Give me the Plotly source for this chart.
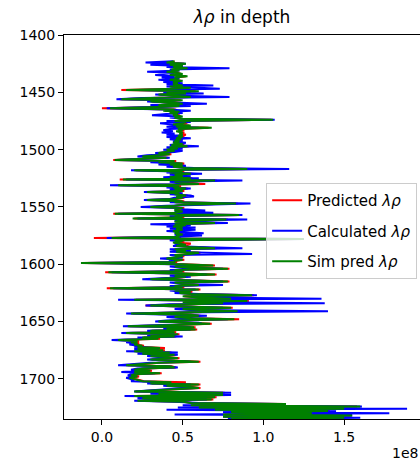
import plotly.graph_objects as go

# Depth samples (m), 1 m spacing from 1423 to 1735
DEPTH = list(range(1423, 1736))

# lambda-rho values in units of 1e8
GREEN = [
    0.45, 0.40, 0.52, 0.42, 0.50, 0.44, 0.53, 0.43, 0.48, 0.40,
    0.46, 0.50, 0.42, 0.53, 0.45, 0.48, 0.42, 0.50, 0.44, 0.47,
    0.44, 0.50, 0.42, 0.55, 0.45, 0.15, 0.60, 0.40, 0.52, 0.35,
    0.45, 0.55, 0.30, 0.12, 0.50, 0.30, 0.45, 0.50, 0.35, 0.48,
    0.30, 0.05, 0.45, 0.38, 0.48, 0.42, 0.47, 0.44, 0.50, 0.45,
    0.48, 1.06, 0.45, 0.52, 0.50, 0.44, 0.55, 0.46, 0.68, 0.47,
    0.50, 0.46, 0.50, 0.48, 0.50, 0.47, 0.50, 0.46, 0.49, 0.45,
    0.48, 0.44, 0.50, 0.43, 0.53, 0.42, 0.47, 0.40, 0.45, 0.40,
    0.35, 0.42, 0.30, 0.25, 0.40, 0.20, 0.08, 0.45, 0.35, 0.50,
    0.42, 0.50, 0.44, 0.52, 0.90, 0.20, 0.50, 0.42, 0.55, 0.45,
    0.50, 0.42, 0.55, 0.13, 0.70, 0.45, 0.50, 0.60, 0.10, 0.48,
    0.44, 0.52, 0.45, 0.50, 0.28, 0.48, 0.45, 0.52, 0.46, 0.50,
    0.45, 0.28, 0.50, 0.45, 0.83, 0.50, 0.45, 0.30, 0.50, 0.46,
    0.45, 0.50, 0.45, 0.08, 0.85, 0.45, 0.50, 0.19, 0.77, 0.48,
    0.45, 0.70, 0.45, 0.52, 0.44, 0.50, 0.46, 0.50, 0.44, 0.48,
    0.45, 0.50, 0.46, 0.48, 0.06, 1.25, 0.45, 0.50, 0.44, 0.48,
    0.52, 0.46, 0.55, 0.70, 0.45, 0.52, 0.46, 0.60, 0.55, 0.45,
    0.50, 0.45, 0.40, 0.50, 0.45, 0.45, -0.13, 0.50, 0.69, 0.45,
    0.55, 0.78, 0.45, 0.50, 0.04, 0.50, 0.70, 0.45, 0.52, 0.45,
    0.30, 0.52, 0.78, 0.45, 0.50, 0.60, 0.45, 0.50, 0.05, 0.60,
    0.45, 0.55, 0.48, 0.55, 0.93, 0.50, 0.60, 0.80, 0.20, 0.90,
    0.50, 0.75, 0.45, 0.30, 0.55, 0.80, 0.50, 0.60, 0.84, 0.50,
    0.18, 0.55, 0.60, 0.45, 0.55, 0.82, 0.45, 0.35, 0.55, 0.67,
    0.45, 0.16, 0.57, 0.40, 0.58, 0.30, 0.45, 0.15, 0.47, 0.30,
    0.45, 0.25, 0.35, 0.10, 0.22, 0.18, 0.22, 0.20, 0.25, 0.22,
    0.36, 0.22, 0.38, 0.20, 0.42, 0.25, 0.45, 0.30, 0.40, 0.47,
    0.30, 0.45, 0.60, 0.35, 0.25, 0.15, 0.42, 0.45, 0.25, 0.20,
    0.30, 0.20, 0.36, 0.20, 0.18, 0.22, 0.17, 0.20, 0.22, 0.25,
    0.43, 0.30, 0.60, 0.40, 0.55, 0.60, 0.45, 0.35, 0.20, 0.75,
    0.35, 0.75, 0.20, 0.70, 0.25, 0.68, 0.22, 0.50, 0.55, 1.14,
    0.55, 1.60, 0.60, 1.50, 0.70, 1.40, 0.80, 1.30, 0.75, 1.55,
    0.75, 1.50, 0.80,
]

BLUE = [
    0.44, 0.27, 0.52, 0.30, 0.50, 0.40, 0.79, 0.42, 0.48, 0.28,
    0.45, 0.40, 0.33, 0.45, 0.37, 0.48, 0.35, 0.44, 0.38, 0.50,
    0.40, 0.69, 0.40, 0.60, 0.73, 0.22, 0.55, 0.38, 0.63, 0.33,
    0.48, 0.79, 0.25, 0.09, 0.45, 0.28, 0.55, 0.65, 0.30, 0.55,
    0.25, 0.03, 0.40, 0.55, 0.42, 0.50, 0.40, 0.31, 0.48, 0.42,
    0.50, 1.07, 0.40, 0.55, 0.36, 0.42, 0.50, 0.40, 0.60, 0.42,
    0.38, 0.44, 0.37, 0.45, 0.40, 0.50, 0.40, 0.55, 0.42, 0.50,
    0.44, 0.52, 0.45, 0.42, 0.60, 0.40, 0.50, 0.38, 0.50, 0.45,
    0.33, 0.40, 0.28, 0.22, 0.42, 0.18, 0.09, 0.40, 0.30, 0.48,
    0.35, 0.52, 0.40, 0.57, 1.16, 0.18, 0.45, 0.40, 0.62, 0.42,
    0.55, 0.38, 0.60, 0.15, 0.87, 0.42, 0.48, 0.55, 0.05, 0.45,
    0.40, 0.55, 0.42, 0.48, 0.26, 0.50, 0.42, 0.55, 0.57, 0.45,
    0.42, 0.26, 0.48, 0.42, 0.92, 0.55, 0.40, 0.24, 0.48, 0.50,
    0.64, 0.45, 0.69, 0.10, 0.87, 0.42, 0.48, 0.22, 0.90, 0.45,
    0.55, 0.78, 0.30, 0.55, 0.40, 0.58, 0.42, 0.58, 0.40, 0.52,
    0.63, 0.45, 0.62, 0.45, 0.03, 1.25, 0.42, 0.48, 0.46, 0.45,
    0.50, 0.44, 0.60, 0.87, 0.42, 0.55, 0.42, 0.65, 0.93, 0.42,
    0.48, 0.50, 0.36, 0.48, 0.42, 0.42, -0.10, 0.45, 0.60, 0.42,
    0.50, 0.75, 0.42, 0.48, 0.06, 0.45, 0.65, 0.42, 0.55, 0.40,
    0.25, 0.50, 0.75, 0.42, 0.48, 0.75, 0.42, 0.48, 0.07, 0.58,
    0.42, 0.50, 0.45, 0.60, 0.96, 0.55, 0.65, 1.36, 0.10, 0.85,
    0.55, 1.38, 0.42, 0.27, 0.60, 0.75, 0.45, 0.55, 1.40, 0.45,
    0.15, 0.50, 0.65, 0.40, 0.50, 0.78, 0.40, 0.33, 0.60, 0.62,
    0.40, 0.13, 0.55, 0.38, 0.55, 0.28, 0.40, 0.12, 0.45, 0.28,
    0.50, 0.22, 0.30, 0.06, 0.20, 0.15, 0.20, 0.17, 0.22, 0.20,
    0.33, 0.20, 0.35, 0.15, 0.47, 0.22, 0.47, 0.28, 0.35, 0.45,
    0.28, 0.42, 0.55, 0.30, 0.22, 0.10, 0.40, 0.47, 0.22, 0.18,
    0.25, 0.12, 0.33, 0.18, 0.16, 0.20, 0.15, 0.18, 0.20, 0.18,
    0.40, 0.28, 0.55, 0.38, 0.50, 0.58, 0.40, 0.30, 0.20, 0.80,
    0.30, 0.80, 0.14, 0.65, 0.22, 0.65, 0.20, 0.45, 0.60, 1.10,
    0.50, 1.61, 0.47, 1.89, 0.40, 1.45, 0.75, 1.78, 0.45, 1.55,
    0.75, 1.60, 0.78,
]

RED = [
    0.45, 0.41, 0.51, 0.43, 0.50, 0.45, 0.54, 0.44, 0.47, 0.41,
    0.47, 0.49, 0.43, 0.52, 0.46, 0.47, 0.43, 0.49, 0.45, 0.48,
    0.45, 0.49, 0.43, 0.54, 0.46, 0.12, 0.58, 0.41, 0.51, 0.36,
    0.46, 0.54, 0.31, 0.11, 0.49, 0.31, 0.46, 0.51, 0.36, 0.47,
    0.31, 0.00, 0.46, 0.39, 0.47, 0.43, 0.48, 0.45, 0.49, 0.46,
    0.49, 1.05, 0.46, 0.53, 0.52, 0.45, 0.54, 0.47, 0.66, 0.48,
    0.51, 0.47, 0.51, 0.49, 0.52, 0.48, 0.51, 0.47, 0.50, 0.46,
    0.49, 0.45, 0.51, 0.44, 0.54, 0.43, 0.48, 0.41, 0.46, 0.41,
    0.36, 0.43, 0.31, 0.26, 0.41, 0.19, 0.07, 0.46, 0.36, 0.51,
    0.43, 0.51, 0.45, 0.53, 0.93, 0.21, 0.51, 0.43, 0.56, 0.46,
    0.51, 0.43, 0.56, 0.11, 0.71, 0.46, 0.51, 0.64, 0.11, 0.49,
    0.45, 0.53, 0.46, 0.51, 0.29, 0.49, 0.46, 0.53, 0.47, 0.51,
    0.46, 0.29, 0.51, 0.46, 0.84, 0.51, 0.46, 0.31, 0.51, 0.47,
    0.46, 0.51, 0.46, 0.07, 0.86, 0.46, 0.51, 0.20, 0.78, 0.49,
    0.46, 0.72, 0.46, 0.53, 0.45, 0.51, 0.47, 0.51, 0.45, 0.49,
    0.46, 0.51, 0.47, 0.49, -0.05, 1.20, 0.46, 0.51, 0.45, 0.55,
    0.53, 0.47, 0.56, 0.71, 0.46, 0.53, 0.47, 0.61, 0.56, 0.46,
    0.51, 0.46, 0.41, 0.51, 0.46, 0.46, -0.12, 0.51, 0.70, 0.46,
    0.56, 0.79, 0.46, 0.51, 0.02, 0.51, 0.71, 0.46, 0.53, 0.46,
    0.31, 0.53, 0.79, 0.46, 0.51, 0.61, 0.46, 0.51, 0.03, 0.61,
    0.46, 0.56, 0.49, 0.56, 0.94, 0.51, 0.61, 0.81, 0.21, 0.91,
    0.51, 0.76, 0.46, 0.27, 0.56, 0.81, 0.51, 0.61, 0.85, 0.51,
    0.19, 0.56, 0.61, 0.46, 0.56, 0.85, 0.46, 0.36, 0.56, 0.68,
    0.46, 0.17, 0.58, 0.41, 0.59, 0.31, 0.46, 0.16, 0.48, 0.31,
    0.46, 0.26, 0.36, 0.11, 0.23, 0.19, 0.23, 0.21, 0.26, 0.23,
    0.39, 0.23, 0.39, 0.21, 0.43, 0.26, 0.46, 0.31, 0.41, 0.48,
    0.31, 0.46, 0.61, 0.36, 0.26, 0.16, 0.43, 0.46, 0.26, 0.21,
    0.31, 0.21, 0.37, 0.21, 0.19, 0.23, 0.18, 0.21, 0.23, 0.26,
    0.52, 0.31, 0.61, 0.41, 0.56, 0.61, 0.46, 0.36, 0.21, 0.76,
    0.36, 0.78, 0.21, 0.71, 0.26, 0.69, 0.23, 0.51, 0.56, 1.13,
    0.56, 1.58, 0.61, 1.49, 0.71, 1.41, 0.81, 1.31, 0.76, 1.54,
    0.76, 1.49, 0.81,
]

SERIES = [
    ("Predicted <i>λρ</i>", RED, "#ff0000"),
    ("Calculated <i>λρ</i>", BLUE, "#0000ff"),
    ("Sim pred <i>λρ</i>", GREEN, "#008000"),
]

X_TICKS = [0.0, 0.5, 1.0, 1.5]
Y_TICKS = [1400, 1450, 1500, 1550, 1600, 1650, 1700]

FONT = "DejaVu Sans"

fig = go.Figure()
for name, vals, color in SERIES:
    fig.add_trace(go.Scatter(
        x=vals, y=DEPTH, mode="lines", name=name, legendgroup=name,
        line=dict(color=color, width=2),
    ))

fig.update_layout(
    width=420, height=461,
    margin=dict(l=64, r=0, t=35, b=42),
    paper_bgcolor="white", plot_bgcolor="white",
    font=dict(family=FONT, size=14, color="#000000"),
    title=dict(text="<i>λρ</i> in depth", x=(242 / 420), xanchor="center",
               yref="container", y=1 - 17 / 461, yanchor="middle",
               font=dict(family=FONT, size=17, color="#000000")),
    showlegend=True,
    legend=dict(
        x=0.992, xanchor="right", y=0.6146, yanchor="top",
        bgcolor="rgba(255,255,255,0.8)", bordercolor="#cccccc", borderwidth=1,
        font=dict(family=FONT, size=15, color="#000000"),
        tracegroupgap=8, traceorder="grouped",
    ),
    xaxis=dict(
        range=[-0.235, 1.97], tickvals=X_TICKS, tickformat=".1f",
        showgrid=False, zeroline=False, showline=True, linecolor="#000000",
        linewidth=1, mirror=True, ticks="outside", ticklen=5,
        tickcolor="#000000", tickfont=dict(size=14),
    ),
    yaxis=dict(
        range=[1735, 1400], tickvals=Y_TICKS,
        showgrid=False, zeroline=False, showline=True, linecolor="#000000",
        linewidth=1, mirror=False, ticks="outside", ticklen=5,
        tickcolor="#000000", tickfont=dict(size=14),
    ),
    annotations=[dict(
        text="1e8", xref="paper", yref="paper", x=1, y=0,
        xanchor="right", yanchor="middle", yshift=-34, showarrow=False,
        font=dict(family=FONT, size=14, color="#000000"),
    )],
)

fig.write_html(
    "out.html",
    config={"displayModeBar": False},
    post_script="document.body.style.margin='0px';document.body.style.overflow='hidden';",
)
